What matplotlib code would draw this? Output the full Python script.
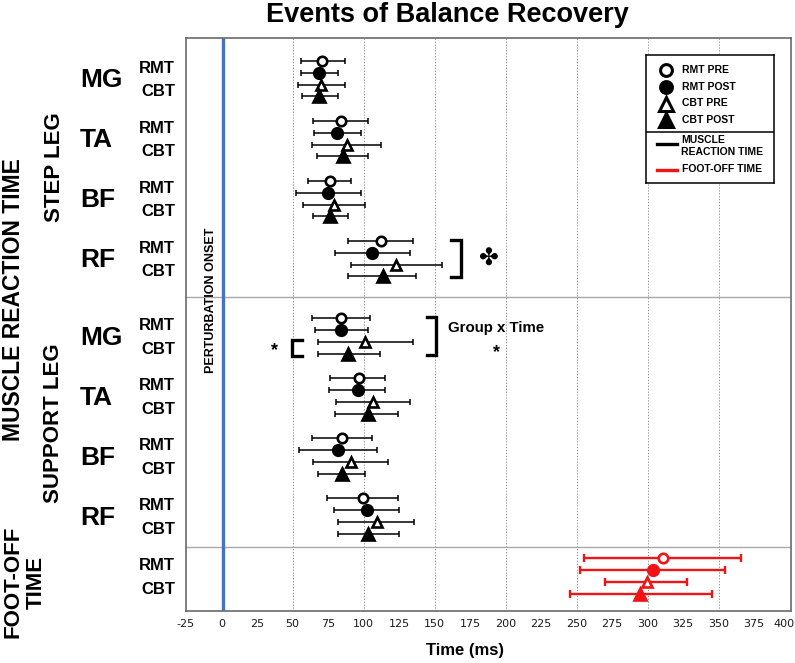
import matplotlib
matplotlib.use("Agg")
import matplotlib.pyplot as plt
import matplotlib.transforms as mtransforms

W, H, DPI = 795, 663, 100

# ---------------- data ----------------
muscles = ["MG", "TA", "BF", "RF"]
groups = ["RMT", "CBT"]
conditions = ["RMT PRE", "RMT POST", "CBT PRE", "CBT POST"]

# Step leg (rows: RMT PRE, RMT POST, CBT PRE, CBT POST), ms
step_mean = [[71.1, 68.7, 69.9, 68.7], [84.0, 81.2, 88.2, 85.6],
             [76.5, 75.1, 79.3, 76.5], [112.2, 106.3, 123.2, 113.4]]
step_low = [[55.8, 55.8, 54.2, 57.0], [64.5, 65.2, 63.6, 67.1],
            [61.0, 52.8, 57.4, 64.5], [89.2, 80.0, 91.1, 89.2]]
step_high = [[87.0, 81.7, 86.8, 81.7], [103.5, 98.1, 112.2, 102.8],
             [91.5, 98.1, 100.9, 89.2], [134.5, 132.6, 155.2, 137.3]]

# Support leg
support_mean = [[84.0, 84.0, 100.9, 89.4], [96.5, 95.8, 106.8, 102.8],
                [84.7, 81.7, 91.1, 84.7], [99.7, 102.1, 109.4, 103.2]]
support_low = [[63.6, 65.9, 67.6, 67.6], [76.5, 75.8, 80.5, 79.8],
               [63.6, 54.6, 64.5, 68.0], [74.6, 78.9, 82.1, 82.1]]
support_high = [[104.4, 102.8, 134.5, 111.5], [115.2, 115.2, 132.6, 124.0],
                [105.8, 109.4, 117.4, 100.9], [124.0, 125.1, 135.7, 125.1]]

# Foot-off time
footoff_mean = [310.7, 304.1, 299.4, 294.9]
footoff_low = [255.5, 252.2, 270.0, 245.6]
footoff_high = [365.9, 354.6, 328.0, 345.5]

x_ticks = list(range(-25, 401, 25))
grid_x = list(range(50, 351, 50))

# ---------------- layout (pixel-like vertical units) ----------------
ROW = 11.9
GROUP = 60.0
STEP_START, SUPPORT_START, FOOT_START = 60.7, 318.3, 558.3
SEP1, SEP2 = 297.0, 547.3
Y_TOP, Y_BOT = 38.0, 610.7
BLACK, RED, BLUE = "#000000", "#f21414", "#4472C4"

MARKERS = [("o", False), ("o", True), ("^", False), ("^", True)]
BOLD = dict(family=["Liberation Sans", "DejaVu Sans"], fontweight="bold")

fig = plt.figure(figsize=(W / DPI, H / DPI), dpi=DPI)
ax_l, ax_r = 186, 791
ax = fig.add_axes([ax_l / W, 1 - Y_BOT / H, (ax_r - ax_l) / W, (Y_BOT - Y_TOP) / H])
ax.set_xlim(-25, 401)
ax.set_ylim(Y_BOT, Y_TOP)
ax.set_yticks([])
ax.set_xticks(x_ticks)
ax.set_xticklabels([str(t) for t in x_ticks], fontsize=8, color="#1a1a1a",
                   family="DejaVu Sans")
ax.tick_params(axis="x", length=0, pad=6)
# keep the last tick label inside the picture
last_lbl = ax.get_xticklabels()[-1]
last_lbl.set_transform(last_lbl.get_transform() +
                       mtransforms.ScaledTranslation(-6 / DPI, 0, fig.dpi_scale_trans))
for sp in ax.spines.values():
    sp.set_color("#6a6a6a")
    sp.set_linewidth(1.2)

for gx in grid_x:
    ax.axvline(gx, color="#8a8a8a", lw=0.7, ls=(0, (1.2, 1.8)), zorder=1)
for sy in (SEP1, SEP2):
    ax.axhline(sy, color="#a8a8a8", lw=1.0, zorder=1)
ax.axvline(1, color=BLUE, lw=2.4, zorder=2)


def draw_rows(means, lows, highs, y0, color, elw, cap):
    for k, (m, lo, hi) in enumerate(zip(means, lows, highs)):
        y = y0 + k * ROW
        ax.errorbar([m], [y], xerr=[[m - lo], [hi - m]], fmt="none",
                    ecolor=color, elinewidth=elw, capsize=cap, capthick=elw,
                    zorder=3)
        mk, filled = MARKERS[k]
        size = 6.8 if mk == "o" else 7.8
        if filled:
            size += 0.8
        ax.plot([m], [y], ls="none", marker=mk, markersize=size,
                markerfacecolor=color if filled else "white",
                markeredgecolor=color, markeredgewidth=1.9, zorder=4)


def px(x, y):
    return x / W, 1 - y / H


for gi, mname in enumerate(muscles):
    for start, means, lows, highs in ((STEP_START, step_mean, step_low, step_high),
                                      (SUPPORT_START, support_mean, support_low, support_high)):
        y0 = start + gi * GROUP
        draw_rows(means[gi], lows[gi], highs[gi], y0, BLACK, 1.1, 2.3)
        yc = ax.transData.transform((0, y0 + 1.5 * ROW))[1]
        fig.text(80 / W, yc / H - 1.5 / H, mname, fontsize=19, ha="left",
                 va="center", **BOLD)
        for j, g in enumerate(groups):
            yy = ax.transData.transform((0, y0 + (0.5 + 2 * j) * ROW))[1]
            fig.text(175 / W, yy / H - 1.5 / H, g, fontsize=12, ha="right",
                     va="center", **BOLD)

draw_rows(footoff_mean, footoff_low, footoff_high, FOOT_START, RED, 1.7, 2.6)
for j, g in enumerate(groups):
    yy = ax.transData.transform((0, FOOT_START + (0.5 + 2 * j) * ROW))[1]
    fig.text(175 / W, yy / H - 1.5 / H, g, fontsize=12, ha="right",
             va="center", **BOLD)

# side labels
fig.text(*px(14, 300), "MUSCLE REACTION TIME", rotation=90, fontsize=16.5,
         ha="center", va="center", **BOLD)
fig.text(*px(54, 167), "STEP LEG", rotation=90, fontsize=16,
         ha="center", va="center", **BOLD)
fig.text(*px(54, 423), "SUPPORT LEG", rotation=90, fontsize=16,
         ha="center", va="center", **BOLD)
fig.text(*px(25, 582), "FOOT-OFF\nTIME", rotation=90, fontsize=16,
         ha="center", va="center", multialignment="center", linespacing=1.15,
         **BOLD)

# perturbation onset label
ax.text(-7.5, 300, "PERTURBATION ONSET", rotation=90, fontsize=9,
        ha="center", va="center", zorder=5, **BOLD)

# title and x label
fig.text(*px(447, 15), "Events of Balance Recovery", fontsize=19.5,
         ha="center", va="center", **BOLD)
fig.text(*px(465, 651), "Time (ms)", fontsize=12, ha="center", va="center",
         **BOLD)

# significance brackets
rf_top = STEP_START + 3 * GROUP
ax.plot([161.5, 168.6, 168.6, 161.5], [rf_top - 0.5, rf_top - 0.5,
        rf_top + 3 * ROW + 0.5, rf_top + 3 * ROW + 0.5],
        color=BLACK, lw=2.4, solid_joinstyle="miter", zorder=5)
ax.text(187.5, rf_top + 1.5 * ROW, "\u2724", fontsize=17, ha="center",
        va="center", color=BLACK, family="DejaVu Sans")

mg_top = SUPPORT_START
ax.plot([56.5, 49.5, 49.5, 56.5], [mg_top + 2 * ROW - 2, mg_top + 2 * ROW - 2,
        mg_top + 3 * ROW + 1.5, mg_top + 3 * ROW + 1.5],
        color=BLACK, lw=2.4, solid_joinstyle="miter", zorder=5)
ax.text(37, mg_top + 2.5 * ROW + 3, "*", fontsize=13, ha="center",
        va="center", **BOLD)
ax.plot([144.6, 151, 151, 144.6], [mg_top - 1.3, mg_top - 1.3,
        mg_top + 3 * ROW + 0.5, mg_top + 3 * ROW + 0.5],
        color=BLACK, lw=2.4, solid_joinstyle="miter", zorder=5)
ax.text(159.6, mg_top + 0.8 * ROW, "Group x Time", fontsize=10.8, ha="left",
        va="center", **BOLD)
ax.text(193.7, mg_top + 2.6 * ROW + 3, "*", fontsize=13, ha="center",
        va="center", **BOLD)

# legend box
lx0, ly0, lw_, lh_ = 646, 55, 128, 128
lg = fig.add_axes([lx0 / W, 1 - (ly0 + lh_) / H, lw_ / W, lh_ / H])
lg.set_xlim(0, lw_)
lg.set_ylim(lh_, 0)
lg.set_xticks([])
lg.set_yticks([])
lg.set_facecolor("white")
for sp in lg.spines.values():
    sp.set_color("black")
    sp.set_linewidth(1.1)
leg_y = [15, 32, 48.5, 65]
for k, name in enumerate(conditions):
    mk, filled = MARKERS[k]
    size = 8.5 if mk == "o" else 10.5
    lg.plot([20], [leg_y[k]], ls="none", marker=mk, markersize=size,
            markerfacecolor="black" if filled else "white",
            markeredgecolor="black", markeredgewidth=2.2)
    lg.text(35.5, leg_y[k], name, fontsize=7.5, ha="left", va="center", **BOLD)
lg.axhline(76.7, color="black", lw=1.1)
lg.plot([11, 31], [88.5, 88.5], color="black", lw=2.4)
lg.text(35, 91, "MUSCLE\nREACTION TIME", fontsize=7.5, ha="left",
        va="center", linespacing=1.15, **BOLD)
lg.plot([11, 31], [114.5, 114.5], color=RED, lw=2.4)
lg.text(35.5, 114.5, "FOOT-OFF TIME", fontsize=7.5, ha="left", va="center",
        **BOLD)

fig.savefig("out.png", dpi=DPI)
